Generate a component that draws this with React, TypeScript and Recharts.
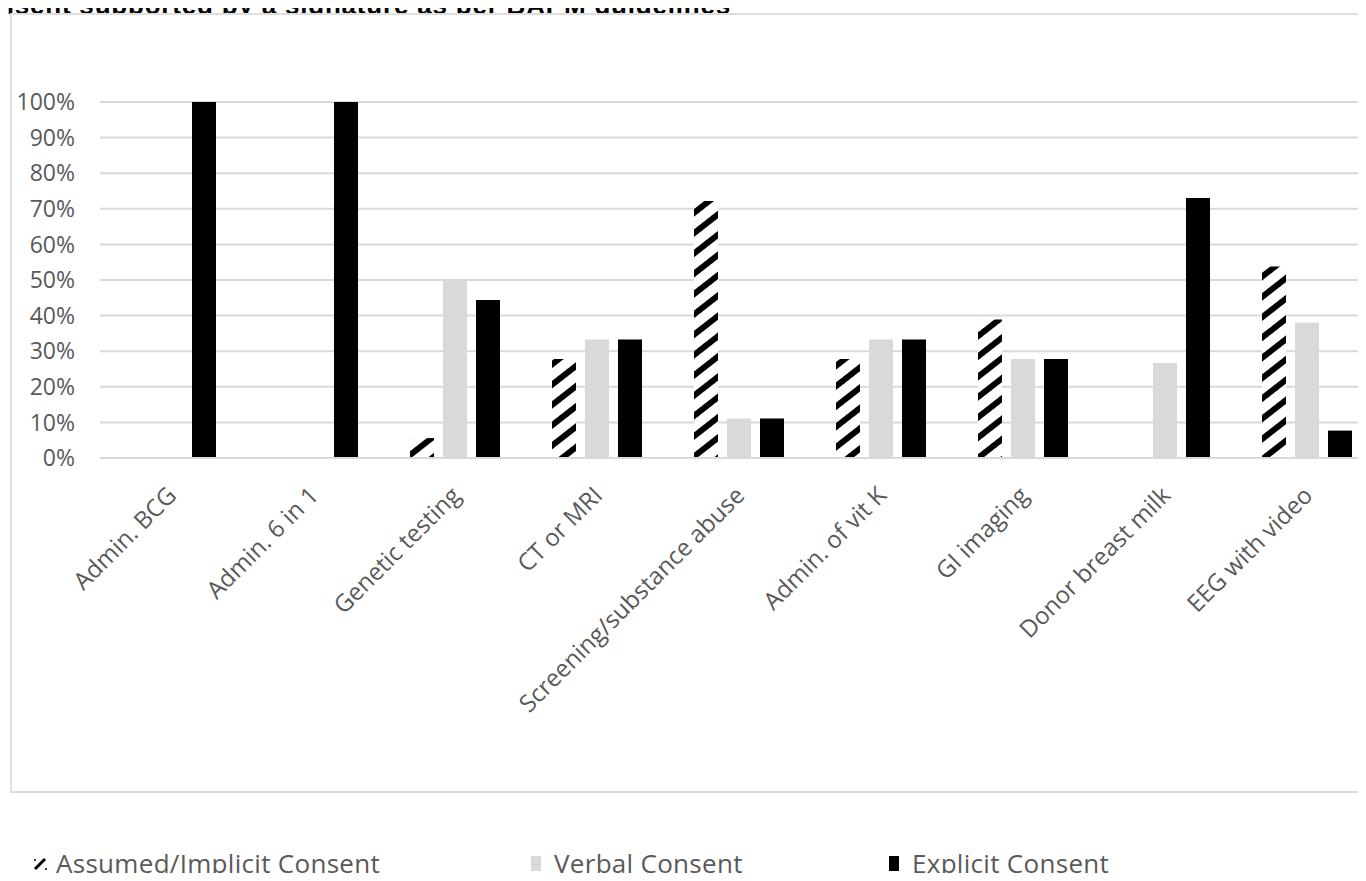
import React from "react";
import { BarChart, Bar, XAxis, YAxis, CartesianGrid, Legend } from "recharts";

const categories = [
  "Admin. BCG",
  "Admin. 6 in 1",
  "Genetic testing",
  "CT or MRI",
  "Screening/substance abuse",
  "Admin. of vit K",
  "GI imaging",
  "Donor breast milk",
  "EEG with video",
];
const assumed = [0, 0, 5.6, 27.8, 72.2, 27.8, 38.9, 0, 53.8];
const verbal = [0, 0, 50, 33.3, 11.1, 33.3, 27.8, 26.7, 38];
const explicit = [100, 100, 44.4, 33.3, 11.1, 33.3, 27.8, 73, 7.7];
const yTicks = [0, 10, 20, 30, 40, 50, 60, 70, 80, 90, 100];
const seriesNames = ["Assumed/Implicit Consent", "Verbal Consent", "Explicit Consent"];
const titleText = "nsent supported by a signature as per BAPM guidelines";

const data = categories.map((name, i) => ({
  name,
  assumed: assumed[i],
  verbal: verbal[i],
  explicit: explicit[i],
}));

const textGray = "#595959";
const font = "'Open Sans', sans-serif";
const legendX = [30, 528, 886];

const CategoryTick = (props: any) => {
  const { x, y, payload } = props;
  return (
    <g transform={`translate(${x + 1},${y + 25})`}>
      <text
        transform="rotate(-45)"
        textAnchor="end"
        dy="0.35em"
        fill={textGray}
        fontSize={24}
        fontFamily={font}
      >
        {payload.value}
      </text>
    </g>
  );
};

const LegendIcon = ({ i }: { i: number }) => {
  if (i === 0) {
    return (
      <svg width={22} height={20}>
        <line x1={5} y1={16} x2={15} y2={6} stroke="#000" strokeWidth={3} />
        <circle cx={5} cy={7} r={1} fill="#000" />
        <circle cx={16} cy={16} r={1} fill="#000" />
      </svg>
    );
  }
  return (
    <svg width={22} height={20}>
      <rect x={3} y={3} width={10} height={15} fill={i === 1 ? "#d9d9d9" : "#000"} />
    </svg>
  );
};

const renderLegend = (props: any) => {
  const items = seriesNames.map(
    (n) => (props.payload || []).find((p: any) => p.value === n) || { value: n }
  );
  return (
    <div style={{ position: "relative", height: 34 }}>
      {items.map((entry: any, i: number) => (
        <div
          key={entry.value}
          style={{
            position: "absolute",
            left: legendX[i],
            top: 0,
            display: "flex",
            alignItems: "center",
            color: textGray,
            fontFamily: font,
            fontSize: 26,
            lineHeight: "30px",
            whiteSpace: "nowrap",
          }}
        >
          <LegendIcon i={i} />
          <span style={{ marginLeft: 4, letterSpacing: 0.3 }}>{entry.value}</span>
        </div>
      ))}
    </div>
  );
};

export default function App() {
  return (
    <div
      style={{
        position: "relative",
        margin: -8,
        width: 1366,
        height: 881,
        overflow: "hidden",
        background: "#fff",
      }}
    >
      <div
        style={{
          position: "absolute",
          left: -2,
          top: -8,
          fontFamily: "'Liberation Sans', Arial, sans-serif",
          fontWeight: "bold",
          fontSize: 26,
          lineHeight: "26px",
          letterSpacing: 0.8,
          color: "#000",
          whiteSpace: "nowrap",
        }}
      >
        {titleText}
      </div>
      <div
        style={{
          position: "absolute",
          left: 10,
          top: 13,
          width: 1420,
          height: 776,
          border: "2px solid #dedede",
          background: "#fff",
        }}
      />
      <div style={{ position: "absolute", left: 0, top: 0 }}>
        <BarChart
          width={1400}
          height={881}
          data={data}
          margin={{ top: 102, right: 22, bottom: 363, left: 10 }}
          barSize={24}
          barGap={9}
        >
          <defs>
            <pattern
              id="hatch"
              patternUnits="userSpaceOnUse"
              width={16}
              height={16}
              patternTransform="rotate(-38)"
            >
              <rect width={16} height={16} fill="#fff" />
              <rect width={16} height={6} fill="#000" />
            </pattern>
          </defs>
          <CartesianGrid vertical={false} stroke="#d9d9d9" strokeWidth={2} />
          <XAxis
            dataKey="name"
            axisLine={{ stroke: "#d9d9d9", strokeWidth: 2 }}
            tickLine={false}
            interval={0}
            height={60}
            tick={<CategoryTick />}
          />
          <YAxis
            width={90}
            domain={[0, 100]}
            ticks={yTicks}
            tickFormatter={(v: number) => `${v}%`}
            axisLine={false}
            tickLine={false}
            tickMargin={19}
            tick={{ fill: textGray, fontSize: 23, fontFamily: font }}
          />
          <Legend
            layout="horizontal"
            verticalAlign="middle"
            align="center"
            wrapperStyle={{ top: 848, left: 0, width: 1366 }}
            content={renderLegend}
          />
          <Bar dataKey="assumed" name={seriesNames[0]} fill="url(#hatch)" isAnimationActive={false} />
          <Bar dataKey="verbal" name={seriesNames[1]} fill="#d9d9d9" isAnimationActive={false} />
          <Bar dataKey="explicit" name={seriesNames[2]} fill="#000" isAnimationActive={false} />
        </BarChart>
      </div>
    </div>
  );
}
